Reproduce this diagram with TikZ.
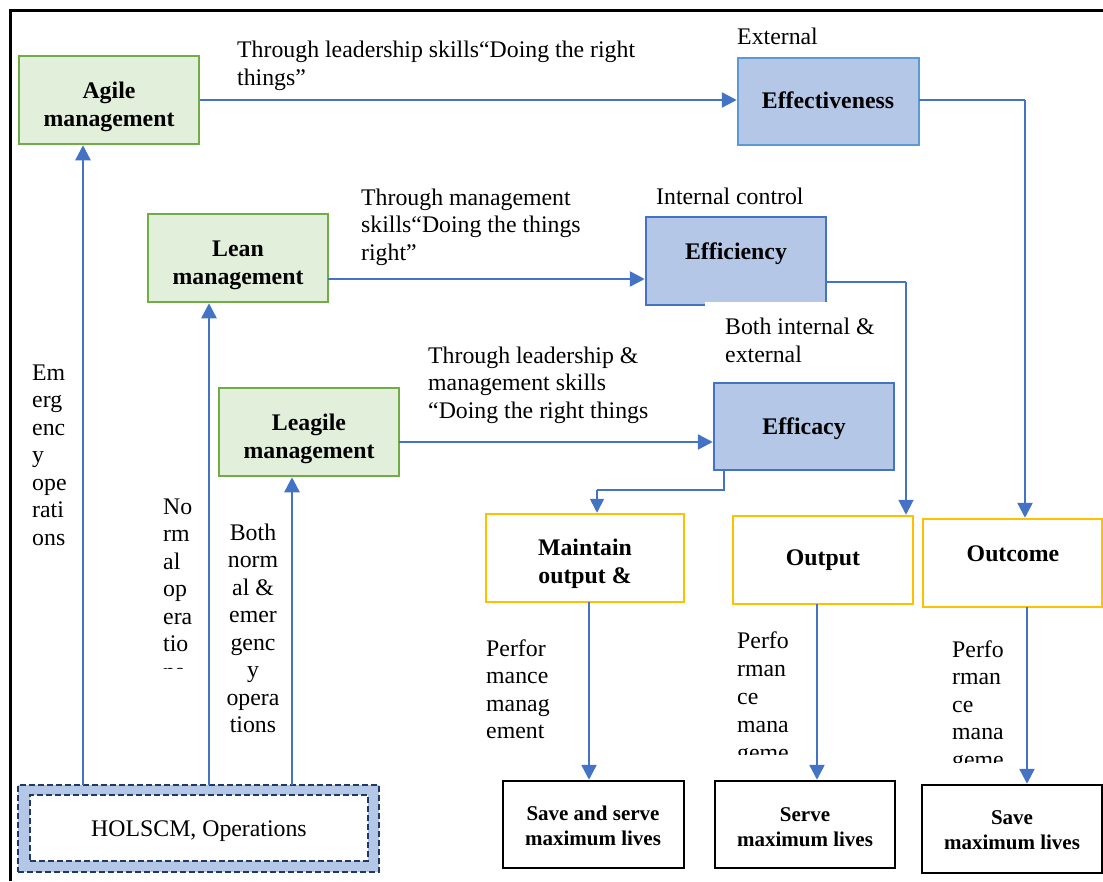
\documentclass[tikz,border=0pt]{standalone}
\usepackage{fontspec}
\setmainfont{Liberation Serif}
\usetikzlibrary{arrows.meta}
\definecolor{cblue}{HTML}{4472C4}
\definecolor{lblue}{HTML}{B4C7E7}
\definecolor{eblue}{HTML}{5B9BD5}
\definecolor{lgreen}{HTML}{E2EFDA}
\definecolor{agreen}{HTML}{70AD47}
\definecolor{myellow}{HTML}{FFC000}
\definecolor{navy}{HTML}{203864}
\begin{document}
\begin{tikzpicture}[x=1pt,y=-1pt,
  greenbox/.style={draw=agreen,fill=lgreen,line width=2.5pt,inner sep=0pt,minimum width=180pt,minimum height=88pt},
  bluebox/.style={draw=cblue,fill=lblue,line width=2.5pt,inner sep=0pt,minimum width=180pt,minimum height=88pt},
  yellowbox/.style={draw=myellow,fill=white,line width=2.5pt,inner sep=0pt,minimum width=180pt,minimum height=88pt},
  blackbox/.style={draw=black,fill=white,line width=2.5pt,inner sep=0pt,minimum width=181pt,minimum height=87pt},
  conn/.style={draw=cblue,line width=2.5pt,-{Triangle[length=15pt,width=15pt]}},
  thinconn/.style={draw=cblue,line width=1.6pt},
  thinarrow/.style={draw=cblue,line width=1.6pt,-{Triangle[length=14pt,width=14pt]}},
  lbl/.style={font=\fontsize{23.8}{27.5}\selectfont,inner sep=0pt,align=left,anchor=base west},
  btxt/.style={font=\bfseries\fontsize{23.8}{28}\selectfont,inner sep=0pt,align=center,anchor=base},
  stxt/.style={font=\bfseries\fontsize{21}{25}\selectfont,inner sep=0pt,align=center,anchor=base},
  dashbox/.style={draw=navy,line width=2.5pt,dash pattern=on 6pt off 3pt,inner sep=0pt}
]
\useasboundingbox (0,0) rectangle (1103,881);
% outer frame
\draw[line width=3pt] (10,881) -- (10,10) -- (1103,10);

% boxes
\node[greenbox] (agile) at (109,100) {};
\node[greenbox] (lean) at (238,258) {};
\node[greenbox] (leag) at (309,432) {};
\node[bluebox,draw=eblue,minimum width=181pt,minimum height=87pt] (effv) at (828.5,101.5) {};
\node[bluebox] (effi) at (736,261) {};
\node[bluebox,minimum height=87pt] (effc) at (804,426.5) {};
\node[yellowbox,minimum width=198pt] (maint) at (585,558) {};
\node[yellowbox] (outp) at (823,560) {};
\node[yellowbox,minimum width=179pt] (outc) at (1012.5,563) {};
\node[blackbox] (ss) at (593.5,824.5) {};
\node[blackbox,minimum width=180pt] (serve) at (805,824.5) {};
\node[blackbox,minimum width=180pt,minimum height=88pt] (save) at (1012,829) {};
\node[dashbox,fill=lblue,minimum width=361pt,minimum height=87pt] (holscm) at (198.5,828.5) {};
\node[dashbox,fill=white,line width=2pt,minimum width=338pt,minimum height=66pt] (holin) at (199,828) {};

% white cover below Efficiency
\fill[white] (705,302) rectangle (880,374);

% box texts (anchor = baseline of last line)
\node[btxt] (tagile) at (109,126) {Agile\\management};
\node[btxt] (tlean) at (238,284) {Lean\\management};
\node[btxt] (tleag) at (309,458) {Leagile\\management};
\node[btxt] (teffv) at (828,108) {Effectiveness};
\node[btxt] (teffi) at (736,259) {Efficiency};
\node[btxt] (teffc) at (804,434) {Efficacy};
\node[btxt] (tmaint) at (585,583) {Maintain\\output \&};
\node[btxt] (toutp) at (823,565) {Output};
\node[btxt] (toutc) at (1013,561) {Outcome};
\node[stxt] (tss) at (593,845) {Save and serve\\maximum lives};
\node[stxt] (tserve) at (805,846) {Serve\\maximum lives};
\node[stxt] (tsave) at (1012,849) {Save\\maximum lives};
\node[font=\fontsize{23.8}{27.5}\selectfont,inner sep=0pt,anchor=base] (tholscm) at (199,836) {HOLSCM, Operations};

% labels (anchor = baseline of last line)
\node[lbl] (l1) at (237,85) {Through leadership skills“Doing the right\\things”};
\node[lbl] (lext) at (737,44) {External};
\node[lbl] (l2) at (361,260) {Through management\\skills“Doing the things\\right”};
\node[lbl] (lint) at (656,204) {Internal control};
\node[lbl] (lboth) at (725,362) {Both internal \&\\external};
\node[lbl] (l3) at (428,418) {Through leadership \&\\management skills\\“Doing the right things};
\node[lbl] (lemerg) at (32,545) {Em\\erg\\enc\\y\\ope\\rati\\ons};
\begin{scope}
\clip (150,480) rectangle (200,668);
\node[lbl] (lnorm) at (163,679) {No\\rm\\al\\op\\era\\tio\\ns};
\end{scope}
\node[lbl,align=center,anchor=base] (lbne) at (253,732.5) {Both\\norm\\al \&\\emer\\genc\\y\\opera\\tions};
\node[lbl] (lp1) at (486,738.5) {Perfor\\mance\\manag\\ement};
\begin{scope}
\clip (730,620) rectangle (800,754);
\node[lbl,font=\fontsize{23.8}{28}\selectfont] (lp2) at (737,788) {Perfo\\rman\\ce\\mana\\geme\\nt};
\end{scope}
\begin{scope}
\clip (945,625) rectangle (1015,762);
\node[lbl] (lp3) at (952,794.5) {Perfo\\rman\\ce\\mana\\geme\\nt};
\end{scope}

% connectors
\coordinate (pa) at (83,785);
\coordinate (pb) at (209,785);
\coordinate (pc) at (292,785);
\draw[conn] (pa) -- (pa |- agile.south);
\draw[conn] (pb) -- (pb |- lean.south);
\draw[conn] (pc) -- (pc |- leag.south);

\draw[conn] (agile.east) -- (agile.east -| effv.west);
\coordinate (lb) at (328,279);
\draw[conn] (lb) -- (lb -| effi.west);
\coordinate (lc) at (399,442);
\draw[conn] (lc) -- (lc -| effc.west);

\coordinate (d1) at (919,100);
\coordinate (d2) at (1025,100);
\draw[thinconn] (d1) -- (d2);
\draw[conn] (d2) -- (d2 |- outc.north);

\coordinate (e1) at (826,282);
\coordinate (e2) at (906,282);
\draw[thinconn] (e1) -- (e2);
\draw[conn,line width=2pt] (e2) -- (e2 |- outp.north);

\coordinate (f1) at (724,470);
\coordinate (f2) at (724,490);
\coordinate (f3) at (597,490);
\draw[thinconn] (f1) -- (f2) -- (f3);
\draw[thinarrow] (f3) -- (f3 |- maint.north);

\coordinate (g1) at (589,602);
\coordinate (h1) at (817,604);
\coordinate (i1) at (1027,607);
\draw[conn] (g1) -- (g1 |- ss.north);
\draw[conn] (h1) -- (h1 |- serve.north);
\draw[conn] (i1) -- (i1 |- save.north);
\end{tikzpicture}
\end{document}
